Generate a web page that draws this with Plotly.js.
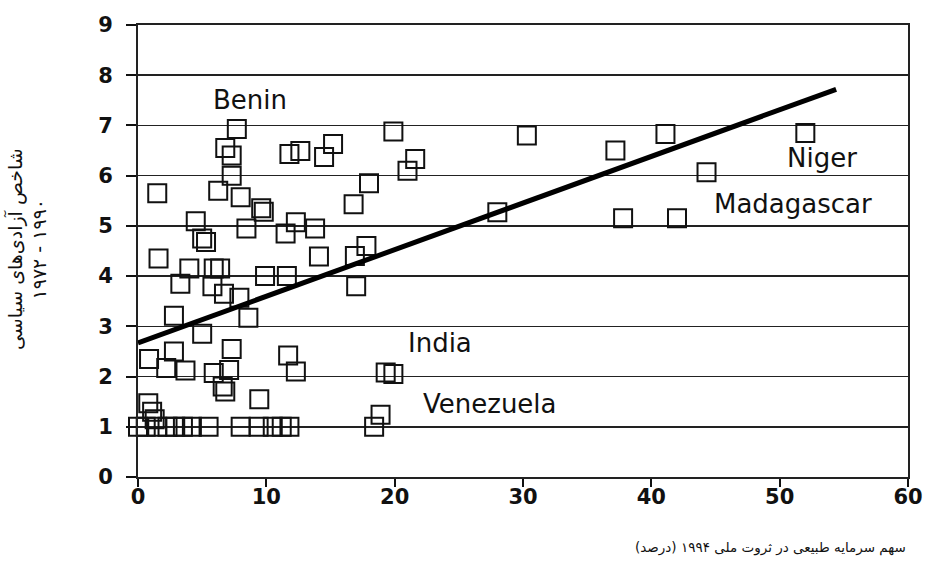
<!DOCTYPE html>
<html>
<head>
<meta charset="utf-8">
<script src="https://cdn.plot.ly/plotly-3.0.1.min.js"></script>
<style>
  html, body { margin: 0; padding: 0; background: #fff; }
  #chart { width: 925px; height: 574px; }
</style>
</head>
<body>
<div id="chart"></div>
<script>
// Share of natural capital in national wealth, 1994 (%)
const natCapShare = [
  7.7, 6.8, 7.3, 7.3, 1.5, 6.25, 8.0, 9.6, 9.8, 4.5,
  8.45, 5.0, 5.3, 1.6, 4.0, 5.9, 6.4, 9.9, 3.3, 5.8,
  6.7, 7.9, 2.8, 8.6, 5.0, 0.86, 2.8, 7.3, 2.2, 3.7,
  5.9, 7.1, 6.6, 6.8, 9.45, 11.7, 12.3, 0.8, 1.1, 1.3,
  0.0, 0.6, 1.5, 2.3, 2.9, 3.5, 4.2, 5.5, 8.0, 9.4,
  10.5, 11.2, 11.8,
  19.9, 11.8, 12.65, 14.5, 15.2, 21.6, 21.0, 18.0, 16.8, 12.3,
  11.5, 13.8, 14.1, 17.8, 16.9, 11.6, 17.0,
  30.3, 41.1, 37.2, 44.3, 28.0, 37.8, 42.0, 52.0,
  19.3, 19.9, 18.9, 18.4
];

// Political freedom index, 1972-1990
const polFreedom = [
  6.93, 6.55, 6.4, 6.0, 5.65, 5.7, 5.57, 5.35, 5.28, 5.09,
  4.95, 4.75, 4.68, 4.35, 4.15, 4.15, 4.15, 4.0, 3.85, 3.8,
  3.65, 3.57, 3.21, 3.17, 2.85, 2.35, 2.5, 2.55, 2.17, 2.12,
  2.07, 2.13, 1.8, 1.7, 1.55, 2.42, 2.1, 1.47, 1.3, 1.15,
  1.0, 1.0, 1.0, 1.0, 1.0, 1.0, 1.0, 1.0, 1.0, 1.0,
  1.0, 1.0, 1.0,
  6.88, 6.43, 6.49, 6.37, 6.63, 6.33, 6.1, 5.85, 5.43, 5.07,
  4.85, 4.95, 4.39, 4.6, 4.4, 4.0, 3.8,
  6.8, 6.83, 6.5, 6.07, 5.27, 5.15, 5.15, 6.85,
  2.08, 2.05, 1.24, 1.0
];

// Fitted regression line
const trendX = [0, 54.4];
const trendY = [2.67, 7.72];

const xTicks = [0, 10, 20, 30, 40, 50, 60];
const yTicks = [0, 1, 2, 3, 4, 5, 6, 7, 8, 9];

const countryNames = ['Benin', 'Niger', 'Madagascar', 'India', 'Venezuela'];
const countryLabelX = [8.7, 53.3, 51.0, 23.5, 27.4];
const countryLabelY = [7.5, 6.36, 5.43, 2.66, 1.46];

const yTitle = 'شاخص آزادی\u200Cهای سیاسی<br>۱۹۷۲ - ۱۹۹۰';
const xTitle = '\u200Fسهم سرمایه طبیعی در ثروت ملی ۱۹۹۴ (درصد)\u200F';

const tickFont = { family: 'DejaVu Sans', size: 21, color: '#111', weight: 'bold' };

const traces = [
  {
    type: 'scatter',
    mode: 'markers',
    x: natCapShare,
    y: polFreedom,
    cliponaxis: false,
    marker: {
      symbol: 'square-open',
      size: 18,
      color: '#111',
      line: { width: 2, color: '#111' }
    },
    hoverinfo: 'x+y'
  },
  {
    type: 'scatter',
    mode: 'lines',
    x: trendX,
    y: trendY,
    line: { color: '#000', width: 5 },
    hoverinfo: 'skip'
  }
];

const annotations = countryNames.map((name, i) => ({
  x: countryLabelX[i],
  y: countryLabelY[i],
  xref: 'x',
  yref: 'y',
  text: name,
  showarrow: false,
  font: { family: 'DejaVu Sans', size: 26, color: '#111' }
}));

annotations.push({
  xref: 'paper', yref: 'paper',
  x: -0.145, y: 0.505,
  xanchor: 'center', yanchor: 'middle',
  text: yTitle,
  textangle: -90,
  showarrow: false,
  font: { family: 'DejaVu Sans', size: 19, color: '#111' }
});

annotations.push({
  xref: 'paper', yref: 'paper',
  x: 0.822, y: -0.157,
  xanchor: 'center', yanchor: 'middle',
  text: xTitle,
  showarrow: false,
  font: { family: 'DejaVu Sans', size: 13.5, color: '#111' }
});

const layout = {
  width: 925,
  height: 574,
  margin: { l: 138, r: 17, t: 25, b: 97 },
  paper_bgcolor: '#fff',
  plot_bgcolor: '#fff',
  showlegend: false,
  xaxis: {
    range: [0, 60],
    tickvals: xTicks,
    ticktext: xTicks.map(String),
    ticks: 'outside',
    ticklen: 8,
    tickwidth: 2,
    tickcolor: '#111',
    ticklabelstandoff: -8,
    showline: true,
    linewidth: 2,
    linecolor: '#222',
    mirror: true,
    showgrid: false,
    zeroline: false,
    tickfont: tickFont
  },
  yaxis: {
    range: [0, 9],
    tickvals: yTicks,
    ticktext: yTicks.map(String),
    ticks: 'outside',
    ticklen: 10,
    tickwidth: 2,
    tickcolor: '#111',
    ticklabelstandoff: 9,
    showline: true,
    linewidth: 2,
    linecolor: '#222',
    mirror: true,
    showgrid: true,
    gridcolor: '#222',
    gridwidth: 1.5,
    zeroline: false,
    tickfont: tickFont
  },
  annotations: annotations
};

Plotly.newPlot('chart', traces, layout, { displayModeBar: false, staticPlot: true });
</script>
</body>
</html>
